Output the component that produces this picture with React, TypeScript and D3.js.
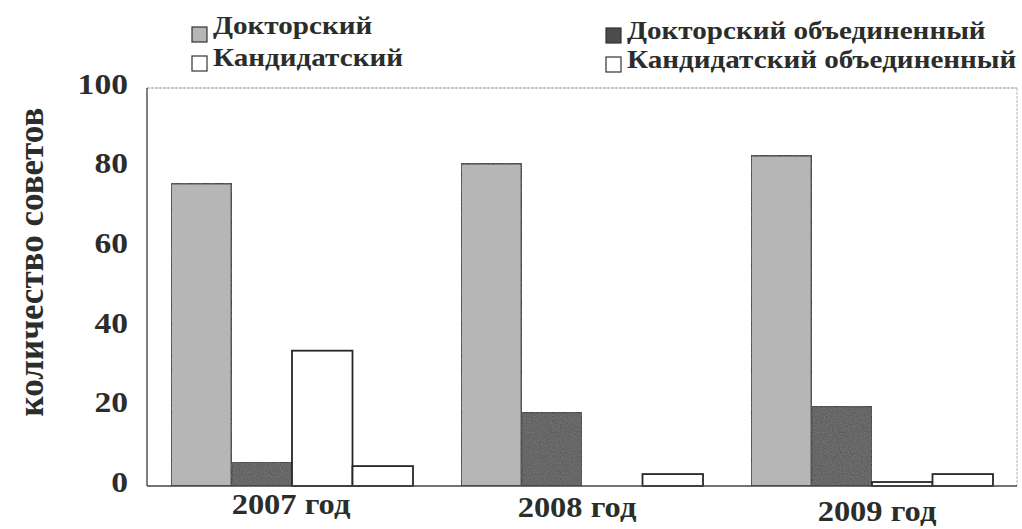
import React from "react";
import * as d3 from "d3";

const categories = ["2007 год", "2008 год", "2009 год"];
const seriesNames = ["Докторский", "Докторский объединенный", "Кандидатский", "Кандидатский объединенный"];
const doctoral = [76, 81, 83];
const doctoralJoint = [6, 18.5, 20];
const candidate = [34, 0, 1];
const candidateJoint = [5, 3, 3];
const yTicks = [0, 20, 40, 60, 80, 100];

const seriesValues = [doctoral, doctoralJoint, candidate, candidateJoint];
const fills = ["#b5b5b5", "#4b4d4a", "#ffffff", "#ffffff"];

const W = 1022, H = 529;
const left = 147, right = 1017, top = 88, bottom = 486;
const font = "'Liberation Serif', 'Times New Roman', serif";
const textColor = "#2b2d2a";
const sx = 1.12; // horizontal stretch of the scanned text
const catDx = [-1, -5, 5];
const catDy = [0, 3, 7];

export default function App() {
  const x0 = d3.scaleBand<string>().domain(categories).range([left, right]).padding(0);
  const x1 = d3.scaleBand<string>().domain(seriesNames).range([24, x0.bandwidth() - 24]).padding(0);
  const y = d3.scaleLinear().domain([0, 100]).range([bottom, top]);

  const legend = [
    { name: seriesNames[0], fill: fills[0], sx: 192, sy: 27, tx: 213, ty: 34 },
    { name: seriesNames[2], fill: fills[2], sx: 192, sy: 56, tx: 213, ty: 66 },
    { name: seriesNames[1], fill: fills[1], sx: 606, sy: 28, tx: 627, ty: 39 },
    { name: seriesNames[3], fill: fills[3], sx: 606, sy: 57, tx: 627, ty: 68 },
  ];

  return (
    <svg width={W} height={H} style={{ position: "absolute", left: 0, top: 0, background: "#fff" }}>
      <defs>
        <filter id="grain" x="0" y="0" width="100%" height="100%">
          <feTurbulence type="fractalNoise" baseFrequency="0.9" numOctaves="2" seed="3" result="n" />
          <feColorMatrix in="n" type="matrix" values="0 0 0 0 0.5  0 0 0 0 0.5  0 0 0 0 0.5  0 0 0 0.3 0" result="g" />
          <feComposite in="g" in2="SourceGraphic" operator="atop" />
        </filter>
      </defs>
      {/* plot frame */}
      <line x1={left} x2={right} y1={top} y2={top} stroke="#8a8a8a" strokeWidth={1} strokeDasharray="3,1" />
      <line x1={right} x2={right} y1={top} y2={bottom} stroke="#b5b5b5" strokeWidth={1} strokeDasharray="3,1" />
      <line x1={left} x2={left} y1={top} y2={bottom} stroke="#555" strokeWidth={1.5} />

      {/* bars */}
      {categories.map((c, ci) => (
        <g key={c} transform={`translate(${x0(c)},0)`}>
          {seriesNames.map((s, si) => {
            const v = seriesValues[si][ci];
            if (v <= 0) return null;
            return (
              <rect
                key={s}
                x={x1(s)}
                y={y(v)}
                width={x1.bandwidth()}
                height={y(0) - y(v)}
                fill={fills[si]}
                stroke="#262626"
                strokeWidth={1.8}
                filter={si < 2 ? "url(#grain)" : undefined}
              />
            );
          })}
        </g>
      ))}
      <line x1={left} x2={right} y1={bottom} y2={bottom} stroke="#444" strokeWidth={1.5} />

      {/* y tick labels */}
      {yTicks.map((t) => (
        <text key={t} transform={`translate(128,${y(t) - 4}) scale(${sx},1)`} textAnchor="end" dominantBaseline="central"
          fontFamily={font} fontWeight="bold" fontSize={30} fill={textColor}>{t}</text>
      ))}

      {/* y title */}
      <text transform={`translate(43,262) rotate(-90)`} textAnchor="middle"
        fontFamily={font} fontWeight="bold" fontSize={35} fill={textColor}>количество советов</text>

      {/* category labels */}
      {categories.map((c, i) => (
        <text key={c} transform={`translate(${(x0(c) as number) + x0.bandwidth() / 2 + catDx[i]},${514 + catDy[i]}) scale(${sx},1)`}
          textAnchor="middle" fontFamily={font} fontWeight="bold" fontSize={29} fill={textColor}>{c}</text>
      ))}

      {/* legend */}
      {legend.map((l) => (
        <g key={l.name}>
          <rect x={l.sx} y={l.sy} width={15} height={15} fill={l.fill} stroke="#333" strokeWidth={1.2} />
          <text transform={`translate(${l.tx},${l.ty}) scale(${sx},1)`} fontFamily={font} fontWeight="bold" fontSize={26} fill={textColor}>{l.name}</text>
        </g>
      ))}
    </svg>
  );
}
